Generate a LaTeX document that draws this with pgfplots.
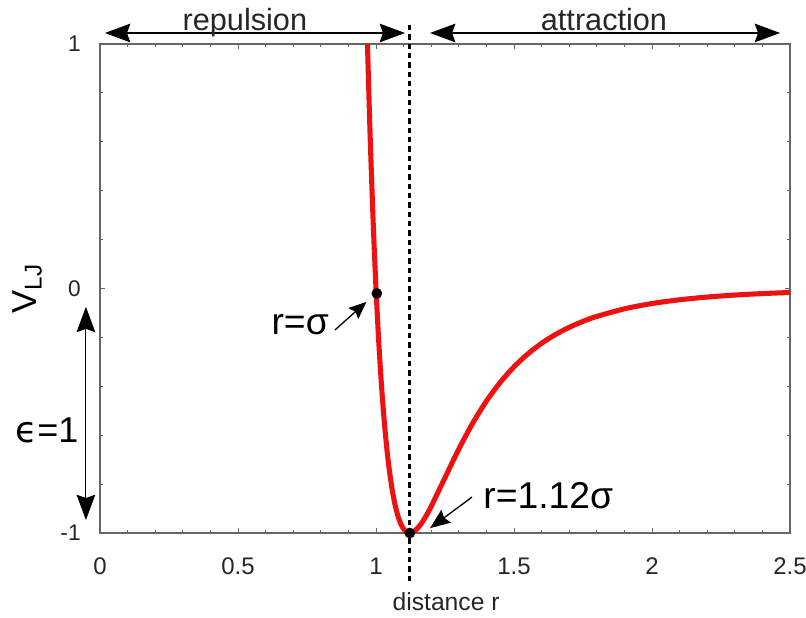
\documentclass[border=0pt]{standalone}
\usepackage{pgfplots}
\pgfplotsset{compat=1.18}
\usepackage{fontspec}
\setmainfont{Liberation Sans}
\newfontfamily\dejavu{DejaVu Sans}
\usetikzlibrary{arrows.meta}
\definecolor{axgray}{HTML}{666666}
\definecolor{ljred}{HTML}{EE1111}
\tikzset{dbl/.style={{Stealth[length=19pt,width=14pt,inset=2.5pt]}-{Stealth[length=19pt,width=14pt,inset=2.5pt]}, line width=0.8pt, black}}
\begin{document}
\begin{tikzpicture}
\useasboundingbox (0pt,0pt) rectangle (604.5pt,462.75pt);
\begin{axis}[
  at={(75pt,63pt)}, anchor=south west,
  scale only axis, width=517.5pt, height=366.75pt,
  xmin=0, xmax=2.5, ymin=-1, ymax=1,
  xtick={0,0.5,1,1.5,2,2.5}, ytick={-1,0,1},
  minor x tick num=4, minor y tick num=4,
  tick align=inside,
  major tick length=4pt, minor tick length=2.5pt,
  axis line style={draw=axgray, line width=1pt},
  every tick/.style={draw=axgray, line width=0.6pt},
  /pgf/number format/assume math mode=true,
  xticklabel style={font=\fontsize{18}{21}\selectfont, yshift=-15pt, text=black!85},
  yticklabel style={font=\fontsize{17}{20}\selectfont, xshift=-11pt, text=black!85},
  clip=false,
]
% dashed line at the minimum
\addplot[black, line width=2.2pt, dash pattern=on 4pt off 3pt] coordinates {(1.123,1.078) (1.123,-1.195)};
% Lennard-Jones curve
\addplot[ljred, line width=3.8pt, smooth, tension=0.5] coordinates {
(0.9691,1.0) (0.975,0.7638) (0.98,0.5819) (0.99,0.2641) (1.00,0.0)
(1.01,-0.2184) (1.02,-0.3979) (1.03,-0.5444) (1.04,-0.6629) (1.05,-0.7575)
(1.06,-0.8320) (1.07,-0.8893) (1.08,-0.9322) (1.09,-0.9629) (1.10,-0.9834)
(1.11,-0.9952) (1.12,-0.9998) (1.13,-0.9985) (1.14,-0.9921) (1.16,-0.9679)
(1.18,-0.9329) (1.20,-0.8910) (1.25,-0.7737) (1.30,-0.6570) (1.35,-0.5516)
(1.40,-0.4607) (1.45,-0.3841) (1.50,-0.3203) (1.55,-0.2677) (1.60,-0.2242)
(1.65,-0.1884) (1.70,-0.1589) (1.75,-0.1344)
(1.80,-0.1142) (1.90,-0.0832) (2.00,-0.0615) (2.10,-0.0461) (2.20,-0.0350)
(2.30,-0.0268) (2.40,-0.0208) (2.50,-0.0163)};
% points
\addplot[only marks, mark=*, mark size=3.8pt, black] coordinates {(1.003,-0.02) (1.1225,-1.0)};
% region arrows
\draw[dbl] (axis cs:0.018,1.045) -- (axis cs:1.105,1.045);
\draw[dbl] (axis cs:1.196,1.045) -- (axis cs:2.464,1.045);
\node[anchor=base, font=\fontsize{23}{26}\selectfont, text=black!85, inner sep=0pt] at (axis cs:0.525,1.056) {repulsion};
\node[anchor=base, font=\fontsize{23}{26}\selectfont, text=black!85, inner sep=0pt] at (axis cs:1.826,1.056) {attraction};
% epsilon arrow
\draw[dbl] (axis cs:-0.051,-0.947) -- (axis cs:-0.051,-0.075);
\node[anchor=base west, font=\fontsize{27}{30}\selectfont, inner sep=0pt] at (axis cs:-0.308,-0.628) {{\dejavu ϵ}=1};
% r = sigma
\node[anchor=base east, font=\fontsize{28}{32}\selectfont, inner sep=0pt] at (axis cs:0.83,-0.19) {r=σ};
\draw[-{Stealth[length=13pt,width=11pt,inset=2pt]}, line width=1pt, black] (axis cs:0.851,-0.170) -- (axis cs:0.965,-0.055);
% r = 1.12 sigma
\node[anchor=base west, font=\fontsize{28}{32}\selectfont, inner sep=0pt] at (axis cs:1.388,-0.898) {r=1.12σ};
\draw[-{Stealth[length=15pt,width=12pt,inset=2pt]}, line width=1pt, black] (axis cs:1.348,-0.853) -- (axis cs:1.196,-0.980);
% axis labels
\node[rotate=90, font=\fontsize{26}{30}\selectfont, inner sep=0pt] at (axis cs:-0.264,0.0) {V\textsubscript{LJ}};
\node[anchor=base, font=\fontsize{18.5}{21}\selectfont, inner sep=0pt, text=black!85] at (axis cs:1.254,-1.315) {distance r};
\end{axis}
\end{tikzpicture}
\end{document}
